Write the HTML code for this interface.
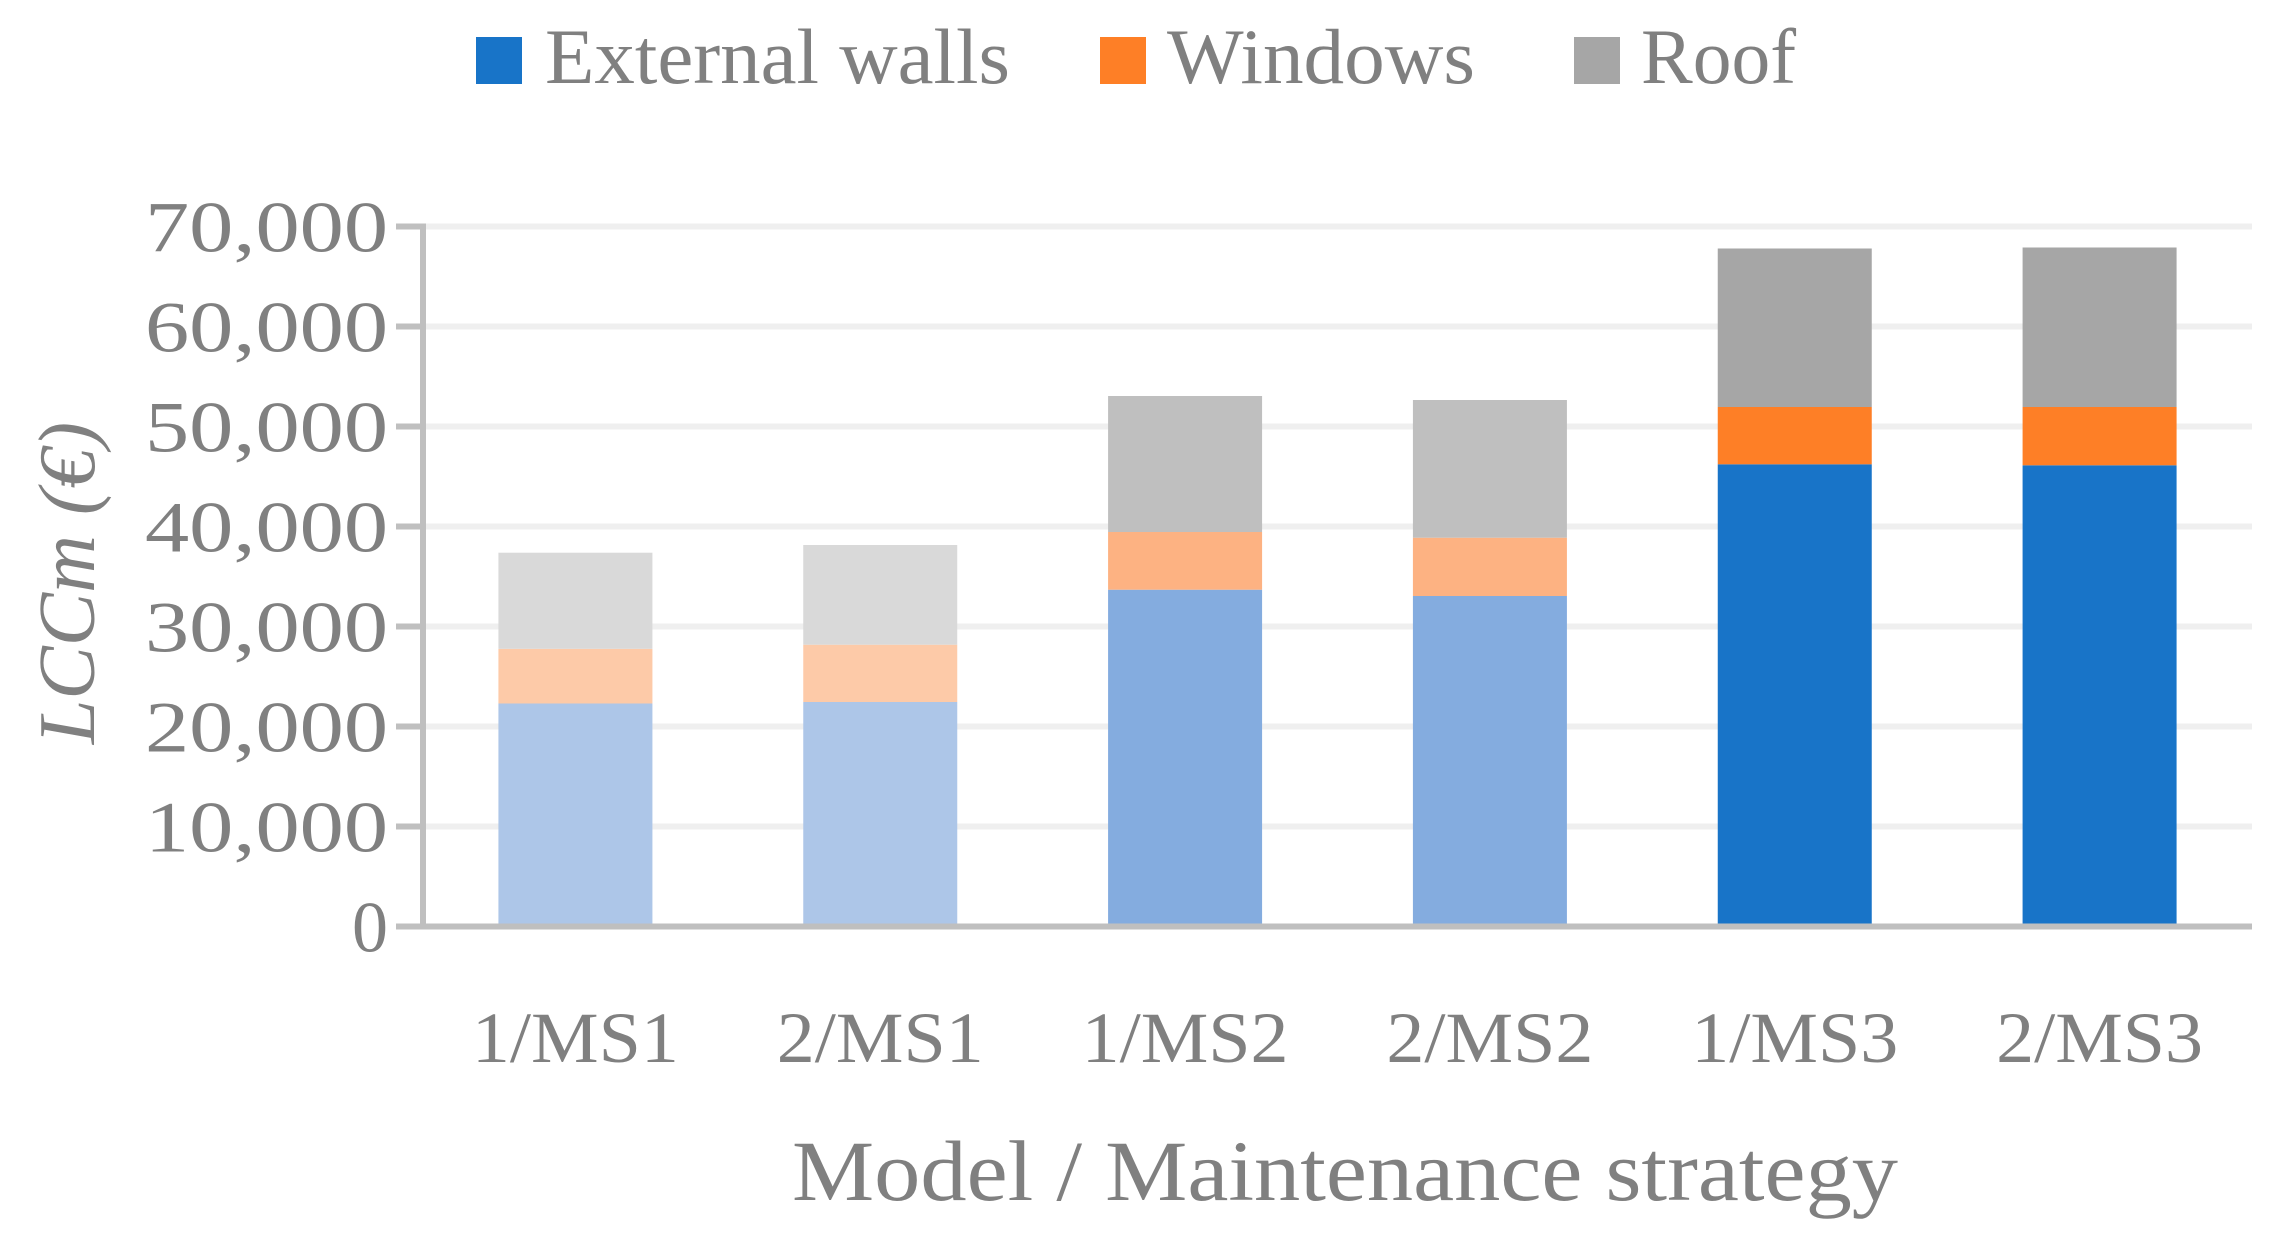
<!DOCTYPE html>
<html><head><meta charset="utf-8"><style>
html,body{margin:0;padding:0;background:#fff;}
svg{display:block;font-family:"Liberation Serif",serif;}
</style></head><body>
<svg id="chart" width="2290" height="1243" viewBox="0 0 2290 1243">
  <g id="legend">
    <rect x="476" y="37" width="46" height="47" fill="#1874c8"/>
    <text x="545" y="83" font-size="78" fill="#808080" textLength="465" lengthAdjust="spacingAndGlyphs">External walls</text>
    <rect x="1100" y="37" width="46" height="47" fill="#fe7f26"/>
    <text x="1167" y="83" font-size="78" fill="#808080" textLength="308" lengthAdjust="spacingAndGlyphs">Windows</text>
    <rect x="1574" y="37" width="46" height="47" fill="#a6a6a6"/>
    <text x="1641" y="83" font-size="78" fill="#808080" textLength="155" lengthAdjust="spacingAndGlyphs">Roof</text>
  </g>
  <g id="grid"></g>
  <g id="bars"></g>
  <g id="axes"></g>
  <text x="0" y="0" transform="translate(94,583) rotate(-90)" text-anchor="middle" font-size="80" font-style="italic" fill="#808080">LCCm (€)</text>
  <text x="1345" y="1200" text-anchor="middle" font-size="86" fill="#808080" textLength="1106" lengthAdjust="spacingAndGlyphs">Model / Maintenance strategy</text>
</svg>
<script>
const categories = ["1/MS1","2/MS1","1/MS2","2/MS2","1/MS3","2/MS3"];
const wallsValues = [22300,22450,33680,33050,46220,46120];
const windowsValues = [5470,5730,5770,5830,5730,5830];
const roofValues = [9610,9970,13600,13770,15850,15950];
const yTicks = [0,10000,20000,30000,40000,50000,60000,70000];
const yTickLabels = ["0","10,000","20,000","30,000","40,000","50,000","60,000","70,000"];

const NS = "http://www.w3.org/2000/svg";
const plotL = 423, plotR = 2252, y0 = 926.5, yTop = 226.5, yMax = 70000;
const yScale = v => y0 - v / yMax * (y0 - yTop);
const band = (plotR - plotL) / categories.length;
const xCenter = i => plotL + band * (i + 0.5);
const barW = 154;
const palettes = [
  ["#adc6e8","#fdcaa8","#d9d9d9"],
  ["#adc6e8","#fdcaa8","#d9d9d9"],
  ["#84acdf","#fdb282","#bfbfbf"],
  ["#84acdf","#fdb282","#bfbfbf"],
  ["#1874c8","#fe7f26","#a6a6a6"],
  ["#1874c8","#fe7f26","#a6a6a6"]
];
function mk(tag, attrs, parent){
  const e = document.createElementNS(NS, tag);
  for (const k in attrs) e.setAttribute(k, attrs[k]);
  parent.appendChild(e);
  return e;
}
const grid = document.getElementById('grid');
const axes = document.getElementById('axes');
const bars = document.getElementById('bars');
yTicks.forEach((v, i) => {
  const y = yScale(v);
  if (v > 0) {
    const g = mk('line', {x1: plotL, x2: plotR, y1: y, y2: y, stroke: '#efefef', 'stroke-width': 6}, grid);
    
    
  }
  const t = mk('line', {x1: 396, x2: plotL, y1: y, y2: y, stroke: '#bfbfbf', 'stroke-width': 6}, axes);
  
  
  const lab = mk('text', {x: 388, y: y + 25, 'text-anchor': 'end', 'font-size': 72, fill: '#808080'}, axes);
  lab.textContent = yTickLabels[i];
  if (yTickLabels[i].length > 1) { lab.setAttribute('textLength', yTickLabels[i].length === 6 ? 243 : 233); lab.setAttribute('lengthAdjust', 'spacingAndGlyphs'); }
  
  
});
const ya = mk('line', {x1: plotL, x2: plotL, y1: yTop - 3, y2: y0, stroke: '#bfbfbf', 'stroke-width': 6}, axes);


const xa = mk('line', {x1: 396, x2: plotR, y1: y0, y2: y0, stroke: '#bfbfbf', 'stroke-width': 6}, axes);



categories.forEach((c, i) => {
  const series = [wallsValues[i], windowsValues[i], roofValues[i]];
  const names = ['walls','windows','roof'];
  let base = 0;
  series.forEach((v, s) => {
    const yT = yScale(base + v), yB = yScale(base);
    const r = mk('rect', {x: xCenter(i) - barW / 2, y: yT, width: barW, height: yB - yT, fill: palettes[i][s]}, bars);
    
    
    base += v;
  });
  const lab = mk('text', {x: xCenter(i), y: 1062, 'text-anchor': 'middle', 'font-size': 72, fill: '#808080', textLength: 207, lengthAdjust: 'spacingAndGlyphs'}, axes);
  lab.textContent = c;
  
  
});
</script>
</body></html>
